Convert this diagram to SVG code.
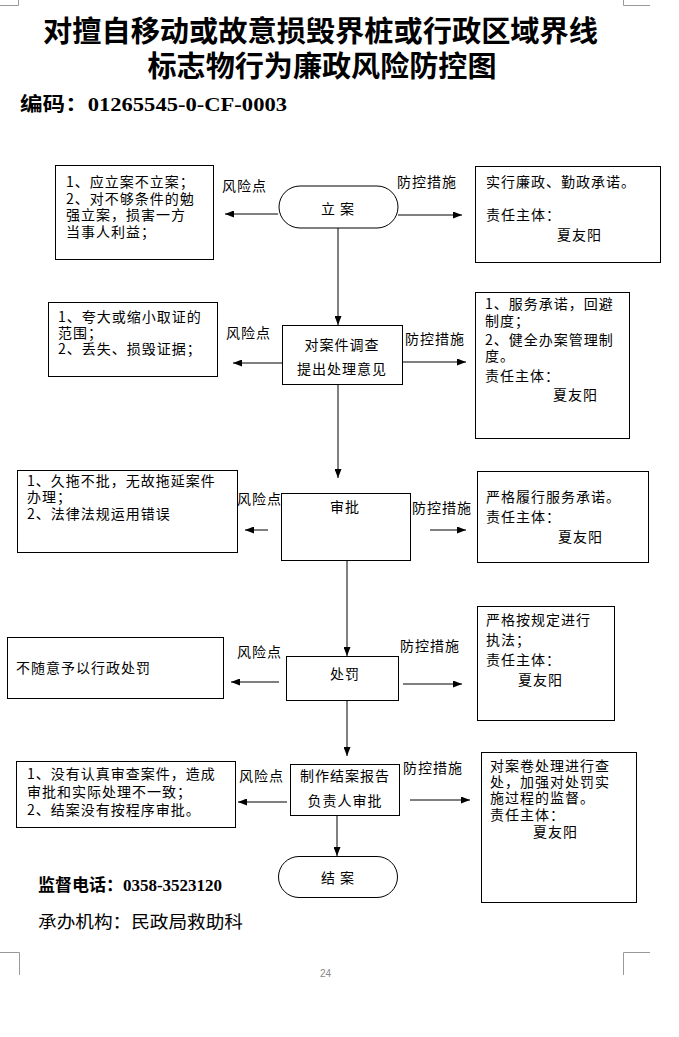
<svg xmlns="http://www.w3.org/2000/svg" width="679" height="1037" viewBox="0 0 679 1037">
<style>
.t{font-family:"Noto Sans CJK SC","Noto Sans",sans-serif;font-size:14px;letter-spacing:1px;fill:#000}
.c{text-anchor:middle}
.box{fill:#fff;stroke:#000;stroke-width:1}
.ln{stroke:#000;stroke-width:1;fill:none}
.mk{stroke:#999;stroke-width:1;fill:none}
.title{font-family:"Liberation Serif","Noto Sans CJK SC",serif;font-weight:700;font-size:29px;fill:#000;text-anchor:middle}
</style>
<defs>
<marker id="ah" markerWidth="9" markerHeight="7" refX="9" refY="3.5" orient="auto" markerUnits="userSpaceOnUse">
<path d="M0,0 L9,3.5 L0,7 z" fill="#000"/>
</marker>
</defs>
<rect width="679" height="1037" fill="#fff"/>

<g id="corner-marks">
<path class="mk" d="M0,5.5 H18.5 V0"/>
<path class="mk" d="M623.5,0 V5.5 H650"/>
<path class="mk" d="M0,952.5 H19.5 V975"/>
<path class="mk" d="M650,952.5 H623.5 V975"/>
</g>

<g id="header">
<text class="title" x="320.5" y="42" textLength="555" lengthAdjust="spacingAndGlyphs">对擅自移动或故意损毁界桩或行政区域界线</text>
<text class="title" x="322" y="77" textLength="349" lengthAdjust="spacingAndGlyphs">标志物行为廉政风险防控图</text>
<text x="20" y="111" font-family="Liberation Serif,'Noto Sans CJK SC',serif" font-weight="700" font-size="19" textLength="267" lengthAdjust="spacingAndGlyphs">编码：01265545-0-CF-0003</text>
</g>

<g id="connectors">
<line class="ln" x1="338" y1="228" x2="338" y2="325" marker-end="url(#ah)"/>
<line class="ln" x1="338" y1="385" x2="338" y2="478" marker-end="url(#ah)"/>
<line class="ln" x1="347" y1="560" x2="347" y2="656" marker-end="url(#ah)"/>
<line class="ln" x1="347" y1="700" x2="347" y2="756" marker-end="url(#ah)"/>
<line class="ln" x1="337" y1="815" x2="337" y2="856" marker-end="url(#ah)"/>
<line class="ln" x1="278" y1="214" x2="225" y2="214" marker-end="url(#ah)"/>
<line class="ln" x1="398" y1="215" x2="462" y2="215" marker-end="url(#ah)"/>
<line class="ln" x1="282" y1="363" x2="233" y2="363" marker-end="url(#ah)"/>
<line class="ln" x1="402" y1="362" x2="466" y2="362" marker-end="url(#ah)"/>
<line class="ln" x1="268" y1="530" x2="245" y2="530" marker-end="url(#ah)"/>
<line class="ln" x1="430" y1="530" x2="466" y2="530" marker-end="url(#ah)"/>
<line class="ln" x1="279" y1="682" x2="231" y2="682" marker-end="url(#ah)"/>
<line class="ln" x1="403" y1="684" x2="462" y2="684" marker-end="url(#ah)"/>
<line class="ln" x1="287" y1="802" x2="238" y2="802" marker-end="url(#ah)"/>
<line class="ln" x1="410" y1="800" x2="470" y2="800" marker-end="url(#ah)"/>
</g>

<g id="labels">
<text class="t" x="222" y="191">风险点</text>
<text class="t" x="397" y="187">防控措施</text>
<text class="t" x="226" y="338">风险点</text>
<text class="t" x="405" y="344">防控措施</text>
<text class="t" x="237" y="504">风险点</text>
<text class="t" x="412" y="513">防控措施</text>
<text class="t" x="237" y="657">风险点</text>
<text class="t" x="400" y="651">防控措施</text>
<text class="t" x="239" y="781">风险点</text>
<text class="t" x="403" y="773">防控措施</text>
</g>

<g id="node-lian">
<rect class="box" x="279" y="186" width="119" height="42" rx="21"/>
<text class="t c" x="338" y="214">立  案</text>
</g>
<g id="risk-1">
<rect class="box" x="55.5" y="165.5" width="158" height="94"/>
<text class="t" x="66" y="187">1、应立案不立案；</text>
<text class="t" x="66" y="203.5">2、对不够条件的勉</text>
<text class="t" x="66" y="220">强立案，损害一方</text>
<text class="t" x="66" y="236.5">当事人利益；</text>
</g>
<g id="measure-1">
<rect class="box" x="475.5" y="166.5" width="185" height="96"/>
<text class="t" x="486" y="187">实行廉政、勤政承诺。</text>
<text class="t" x="486" y="220">责任主体：</text>
<text class="t" x="557" y="240">夏友阳</text>
</g>

<g id="node-diaocha">
<rect class="box" x="282.5" y="325.5" width="120" height="59"/>
<text class="t c" x="342" y="350">对案件调查</text>
<text class="t c" x="342" y="374">提出处理意见</text>
</g>
<g id="risk-2">
<rect class="box" x="48.5" y="302.5" width="169" height="74"/>
<text class="t" x="58" y="322">1、夸大或缩小取证的</text>
<text class="t" x="58" y="338">范围；</text>
<text class="t" x="58" y="354">2、丢失、损毁证据；</text>
</g>
<g id="measure-2">
<rect class="box" x="475.5" y="292.5" width="154" height="146"/>
<text class="t" x="485" y="309">1、服务承诺，回避</text>
<text class="t" x="485" y="326">制度；</text>
<text class="t" x="485" y="345">2、健全办案管理制</text>
<text class="t" x="485" y="361">度。</text>
<text class="t" x="485" y="381">责任主体：</text>
<text class="t" x="553" y="400">夏友阳</text>
</g>

<g id="node-shenpi">
<rect class="box" x="281.5" y="493.5" width="129" height="67"/>
<text class="t c" x="345" y="512">审批</text>
</g>
<g id="risk-3">
<rect class="box" x="17.5" y="470.5" width="220" height="82"/>
<text class="t" x="27" y="486">1、久拖不批，无故拖延案件</text>
<text class="t" x="27" y="502">办理；</text>
<text class="t" x="27" y="519">2、法律法规运用错误</text>
</g>
<g id="measure-3">
<rect class="box" x="477.5" y="471.5" width="171" height="91"/>
<text class="t" x="486" y="502">严格履行服务承诺。</text>
<text class="t" x="486" y="522">责任主体：</text>
<text class="t" x="558" y="542">夏友阳</text>
</g>

<g id="node-chufa">
<rect class="box" x="286.5" y="656.5" width="112" height="44"/>
<text class="t c" x="345" y="679">处罚</text>
</g>
<g id="risk-4">
<rect class="box" x="7.5" y="637.5" width="216" height="61"/>
<text class="t" x="16" y="673">不随意予以行政处罚</text>
</g>
<g id="measure-4">
<rect class="box" x="477.5" y="606.5" width="137" height="114"/>
<text class="t" x="486" y="625">严格按规定进行</text>
<text class="t" x="486" y="645">执法；</text>
<text class="t" x="486" y="665">责任主体：</text>
<text class="t" x="518" y="685">夏友阳</text>
</g>

<g id="node-jiean-report">
<rect class="box" x="290.5" y="764.5" width="109" height="51"/>
<text class="t c" x="345" y="781">制作结案报告</text>
<text class="t c" x="345" y="806">负责人审批</text>
</g>
<g id="risk-5">
<rect class="box" x="16.5" y="761.5" width="219" height="66"/>
<text class="t" x="27" y="779">1、没有认真审查案件，造成</text>
<text class="t" x="27" y="797">审批和实际处理不一致；</text>
<text class="t" x="27" y="815">2、结案没有按程序审批。</text>
</g>
<g id="measure-5">
<rect class="box" x="481.5" y="752.5" width="155" height="150"/>
<text class="t" x="490" y="771">对案卷处理进行查</text>
<text class="t" x="490" y="787">处，加强对处罚实</text>
<text class="t" x="490" y="803">施过程的监督。</text>
<text class="t" x="490" y="820">责任主体：</text>
<text class="t" x="533" y="837">夏友阳</text>
</g>

<g id="node-jiean">
<rect class="box" x="278.5" y="856.5" width="119" height="41" rx="20.5"/>
<text class="t c" x="338" y="883">结  案</text>
</g>

<g id="footer">
<text x="38" y="891" font-family="Liberation Serif,'Noto Sans CJK SC',serif" font-weight="700" font-size="17" textLength="184" lengthAdjust="spacingAndGlyphs">监督电话：0358-3523120</text>
<text x="38" y="928" font-family="'Noto Sans CJK SC',sans-serif" font-size="17" textLength="205" lengthAdjust="spacingAndGlyphs">承办机构：民政局救助科</text>
<text x="320" y="977" font-family="'Liberation Sans',sans-serif" font-size="10" fill="#888">24</text>
</g>
</svg>
